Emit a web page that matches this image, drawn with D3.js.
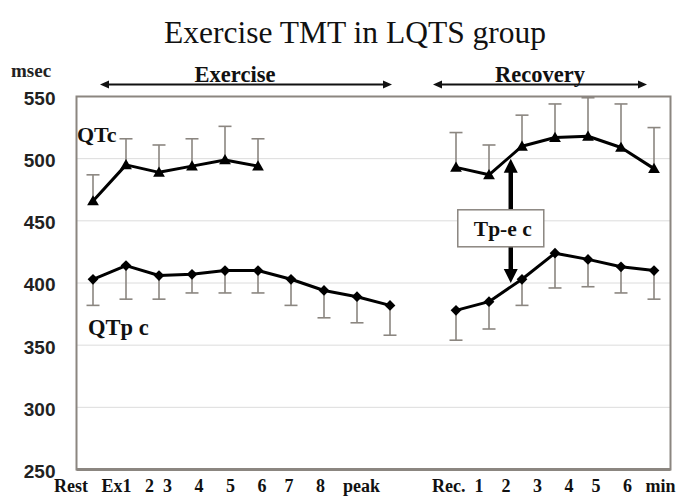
<!DOCTYPE html>
<html>
<head>
<meta charset="utf-8">
<script src="https://cdn.jsdelivr.net/npm/d3@7"></script>
<style>
  html, body { margin: 0; padding: 0; background: #fff; }
  svg { display: block; }
  .serif { font-family: "Liberation Serif", "Times New Roman", serif; }
  .sans { font-family: "Liberation Sans", Arial, sans-serif; }
</style>
</head>
<body>
<svg id="chart" width="681" height="497"></svg>
<script>
// ---------------- data ----------------
const exerciseCats = ["Rest", "Ex1", "2", "3", "4", "5", "6", "7", "8", "peak"];
const recoveryCats = ["Rec.", "1", "2", "3", "4", "5", "6"];

// QTc (mean, +SD) — exercise stages Rest..5, recovery Rec.,1..6
const qtcExercise    = [466, 495, 489, 494, 499, 494];
const qtcExerciseSD  = [21, 21, 22, 22, 27, 22];
const qtcRecovery    = [493, 487, 510, 517, 518, 509, 492];
const qtcRecoverySD  = [28, 24, 25, 27, 31, 35, 33];

// QTp c (mean, -SD)
const qtpExercise    = [403, 414, 406, 407, 410, 410, 403, 394, 389, 382];
const qtpExerciseSD  = [21, 27, 19, 15, 18, 18, 21, 22, 21, 24];
const qtpRecovery    = [378, 385, 403, 424, 419, 413, 410];
const qtpRecoverySD  = [24, 22, 21, 28, 22, 21, 23];

const yTicks = [250, 300, 350, 400, 450, 500, 550];
const gridValues = [300, 350, 400, 450, 500];
const exerciseTickLabels = ["Rest", "Ex1", "2", "3", "4", "5", "6", "7", "8", "peak"];
const recoveryTickLabels = ["Rec.", "1", "2", "3", "4", "5", "6", "min"];

// ---------------- layout ----------------
const svg = d3.select("#chart");
const plot = { left: 76.5, right: 670.5, top: 96.5, bottom: 469.5 };

const keys = [
  ...exerciseCats.map(c => "E:" + c),
  "gap",
  ...recoveryCats.map(c => "R:" + c)
];
const x = d3.scalePoint().domain(keys).range([plot.left, plot.right]).padding(0.5);
const y = d3.scaleLinear().domain([250, 550]).range([plot.bottom, plot.top]);

const frameColor = "#8b8680";
const errColor = "#8b8680";

// title
svg.append("text").attr("class", "serif")
  .attr("x", 355).attr("y", 43)
  .attr("text-anchor", "middle")
  .attr("font-size", 31.5)
  .attr("fill", "#111")
  .text("Exercise TMT in LQTS group");

// gridlines
svg.append("g").selectAll("line").data(gridValues).join("line")
  .attr("x1", plot.left).attr("x2", plot.right)
  .attr("y1", d => y(d)).attr("y2", d => y(d))
  .attr("stroke", "#dcdcdc").attr("stroke-width", 1);

// frame
svg.append("rect")
  .attr("x", plot.left).attr("y", plot.top)
  .attr("width", plot.right - plot.left).attr("height", plot.bottom - plot.top)
  .attr("fill", "none").attr("stroke", frameColor).attr("stroke-width", 2);
svg.append("line")
  .attr("x1", plot.left).attr("x2", plot.right)
  .attr("y1", plot.bottom).attr("y2", plot.bottom)
  .attr("stroke", frameColor).attr("stroke-width", 3);

// y axis labels
const yAxis = d3.axisLeft(y).tickValues(yTicks).tickSize(0).tickPadding(21);
const gy = svg.append("g").attr("transform", `translate(${plot.left},0)`).call(yAxis);
gy.select(".domain").remove();
gy.selectAll("text")
  .attr("class", "sans")
  .attr("font-size", 19).attr("font-weight", "bold")
  .attr("fill", "#222")
  .attr("dy", "0.42em");

// unit label
svg.append("text").attr("class", "serif")
  .attr("x", 11).attr("y", 77)
  .attr("font-size", 19).attr("font-weight", "bold")
  .attr("fill", "#222")
  .text("msec");

// x tick labels (typed as a line of text, like the original)
const exSpaces = [3, 3, 2, 5, 5, 5, 4, 5, 4];
const recSpaces = [2, 4, 5, 5, 4, 5, 3];
function joinWithSpaces(labels, spaces) {
  return labels.map((l, i) => l + (i < spaces.length ? " ".repeat(spaces[i]) : "")).join("");
}
svg.append("text").attr("class", "serif")
  .attr("x", 54).attr("y", 492)
  .attr("xml:space", "preserve").style("white-space", "pre")
  .attr("font-size", 18).attr("font-weight", "bold").attr("fill", "#111")
  .text(joinWithSpaces(exerciseTickLabels, exSpaces));
svg.append("text").attr("class", "serif")
  .attr("x", 432).attr("y", 492)
  .attr("xml:space", "preserve").style("white-space", "pre")
  .attr("font-size", 18).attr("font-weight", "bold").attr("fill", "#111")
  .text(joinWithSpaces(recoveryTickLabels, recSpaces));

// phase arrows
function hArrow(x1, x2, yy) {
  const g = svg.append("g");
  g.append("line").attr("x1", x1 + 6).attr("x2", x2 - 6).attr("y1", yy).attr("y2", yy)
    .attr("stroke", "#111").attr("stroke-width", 2.2);
  g.append("path").attr("d", `M${x1},${yy} L${x1 + 9},${yy - 4} L${x1 + 9},${yy + 4} Z`).attr("fill", "#111");
  g.append("path").attr("d", `M${x2},${yy} L${x2 - 9},${yy - 4} L${x2 - 9},${yy + 4} Z`).attr("fill", "#111");
}
const arrowY = 84.5;
hArrow(x("E:Rest") + 7, x("E:peak") + 2, arrowY);
hArrow(x("R:Rec.") - 23, x("R:6") - 7, arrowY);

svg.append("text").attr("class", "serif")
  .attr("x", 235).attr("y", 82)
  .attr("text-anchor", "middle")
  .attr("font-size", 22.5).attr("font-weight", "bold").attr("fill", "#111")
  .text("Exercise");
svg.append("text").attr("class", "serif")
  .attr("x", 540).attr("y", 82)
  .attr("text-anchor", "middle")
  .attr("font-size", 22.5).attr("font-weight", "bold").attr("fill", "#111")
  .text("Recovery");

// ---------------- series ----------------
function makeSeries(cats, prefix, values, sds) {
  return cats.slice(0, values.length).map((c, i) => ({ key: prefix + c, v: values[i], sd: sds[i] }));
}
const qtcSegs = [
  makeSeries(exerciseCats, "E:", qtcExercise, qtcExerciseSD),
  makeSeries(recoveryCats, "R:", qtcRecovery, qtcRecoverySD)
];
const qtpSegs = [
  makeSeries(exerciseCats, "E:", qtpExercise, qtpExerciseSD),
  makeSeries(recoveryCats, "R:", qtpRecovery, qtpRecoverySD)
];

const line = d3.line().x(d => x(d.key)).y(d => y(d.v));
const capW = 6.5;

function drawErrors(segs, dir) {
  const pts = segs.flat();
  const g = svg.append("g").attr("stroke", errColor).attr("stroke-width", 1.6);
  g.selectAll("line.v").data(pts).join("line").attr("class", "v")
    .attr("x1", d => x(d.key)).attr("x2", d => x(d.key))
    .attr("y1", d => y(d.v)).attr("y2", d => y(d.v + dir * d.sd));
  g.selectAll("line.c").data(pts).join("line").attr("class", "c")
    .attr("x1", d => x(d.key) - capW).attr("x2", d => x(d.key) + capW)
    .attr("y1", d => y(d.v + dir * d.sd)).attr("y2", d => y(d.v + dir * d.sd));
}
drawErrors(qtcSegs, +1);
drawErrors(qtpSegs, -1);

function drawLines(segs) {
  svg.append("g").selectAll("path").data(segs).join("path")
    .attr("d", line).attr("fill", "none")
    .attr("stroke", "#000").attr("stroke-width", 3).attr("stroke-linejoin", "round");
}
drawLines(qtcSegs);
drawLines(qtpSegs);

const tri = d3.symbol().type(d3.symbolTriangle).size(60);
svg.append("g").selectAll("path").data(qtcSegs.flat()).join("path")
  .attr("d", tri).attr("fill", "#000")
  .attr("transform", d => `translate(${x(d.key)},${y(d.v) + 1})`);

const dia = d3.symbol().type(d3.symbolSquare).size(58);
svg.append("g").selectAll("path").data(qtpSegs.flat()).join("path")
  .attr("d", dia).attr("fill", "#000")
  .attr("transform", d => `translate(${x(d.key)},${y(d.v)}) rotate(45)`);

// series labels
svg.append("text").attr("class", "serif")
  .attr("x", 77).attr("y", 142)
  .attr("font-size", 22).attr("font-weight", "bold").attr("fill", "#111")
  .text("QTc");
svg.append("text").attr("class", "serif")
  .attr("x", 88).attr("y", 335)
  .attr("font-size", 22.5).attr("font-weight", "bold").attr("fill", "#111")
  .text("QTp c");

// ---------------- Tp-e c annotation ----------------
const ax = d3.interpolateNumber(x("R:1"), x("R:2"))(0.66);
const yTop = y(500), yBot = y(400);
const ann = svg.append("g");
ann.append("line").attr("x1", ax).attr("x2", ax)
  .attr("y1", yTop + 10).attr("y2", yBot - 10)
  .attr("stroke", "#000").attr("stroke-width", 4.5);
ann.append("path").attr("d", `M${ax},${yTop} L${ax - 7},${yTop + 14} L${ax + 7},${yTop + 14} Z`).attr("fill", "#000");
ann.append("path").attr("d", `M${ax},${yBot} L${ax - 7},${yBot - 14} L${ax + 7},${yBot - 14} Z`).attr("fill", "#000");

const boxCx = ax - 10, boxCy = y(444);
ann.append("rect")
  .attr("x", boxCx - 43).attr("y", boxCy - 18.5)
  .attr("width", 86).attr("height", 37)
  .attr("fill", "#fff").attr("stroke", "#8b8680").attr("stroke-width", 1.5);
ann.append("text").attr("class", "serif")
  .attr("x", boxCx + 2).attr("y", boxCy + 7.5)
  .attr("text-anchor", "middle")
  .attr("font-size", 21.5).attr("font-weight", "bold").attr("fill", "#111")
  .text("Tp-e c");
</script>
</body>
</html>
